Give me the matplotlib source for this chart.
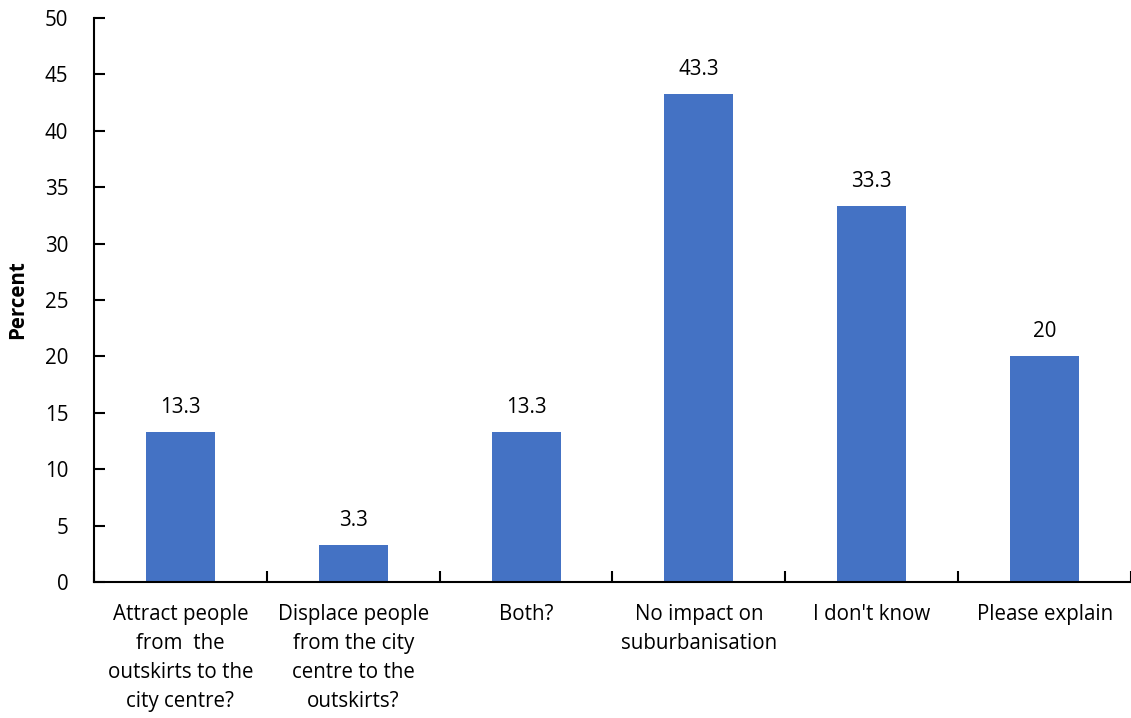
import matplotlib.pyplot as plt
import numpy as np

# survey answers and their share of responses
categories = [
    "Attract people\nfrom  the\noutskirts to the\ncity centre?",
    "Displace people\nfrom the city\ncentre to the\noutskirts?",
    "Both?",
    "No impact on\nsuburbanisation",
    "I don't know",
    "Please explain",
]
percent = [13.3, 3.3, 13.3, 43.3, 33.3, 20]
value_labels = ["13.3", "3.3", "13.3", "43.3", "33.3", "20"]
yticks = [0, 5, 10, 15, 20, 25, 30, 35, 40, 45, 50]

plt.rcParams['font.family'] = ['Open Sans', 'DejaVu Sans']
fs = 14.8

fig = plt.figure(figsize=(11.31, 7.18), dpi=100)
ax = fig.add_axes([0.0831, 0.1894, 0.9169, 0.7856])

x = np.arange(len(categories))
bars = ax.bar(x, percent, width=0.4, color='#4472C4', zorder=2)

for b, lab in zip(bars, value_labels):
    ax.annotate(lab, (b.get_x() + b.get_width() / 2, b.get_height()),
                xytext=(0, 10), textcoords='offset points',
                ha='center', va='bottom', fontsize=fs, color='black')

ax.set_xlim(-0.5, len(categories) - 0.5)
ax.set_ylim(0, 50)
ax.set_yticks(yticks)
ax.set_yticklabels([str(t) for t in yticks], fontsize=fs)
ax.set_xticks(x)
ax.set_xticklabels(categories, fontsize=fs, linespacing=1.5, va='top')
ax.set_xticks(np.arange(len(categories) + 1) - 0.5, minor=True)

ax.tick_params(axis='x', which='major', length=0, pad=16)
ax.tick_params(axis='x', which='minor', direction='in', length=8, width=1.5)
ax.tick_params(axis='y', direction='in', length=8, width=1.5, pad=18.5)

for side in ['top', 'right']:
    ax.spines[side].set_visible(False)
ax.spines['left'].set_linewidth(1.5)
ax.spines['bottom'].set_linewidth(1.5)

ax.set_ylabel("Percent", fontsize=fs, fontweight='bold', labelpad=12)

fig.savefig("out.png", dpi=100)
